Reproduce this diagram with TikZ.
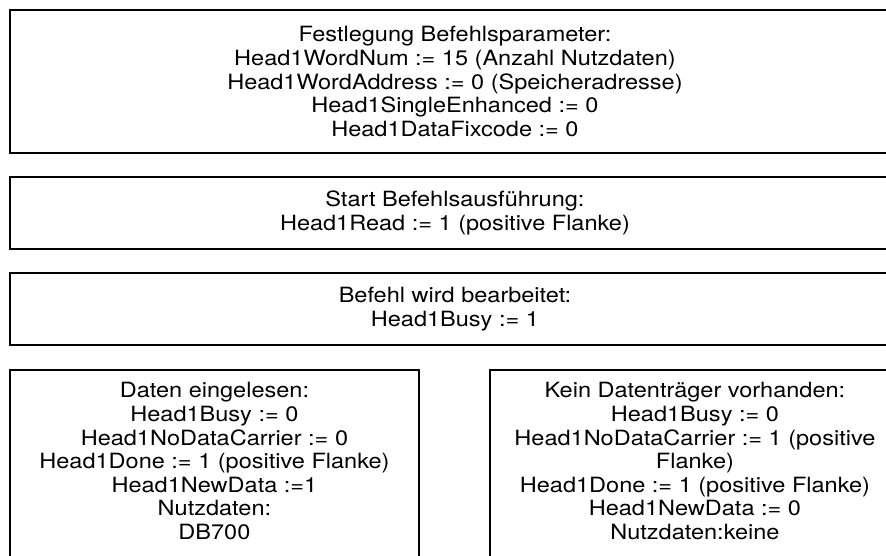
\documentclass[tikz,border=0pt]{standalone}
\usepackage{fontspec}
\setmainfont{TeX Gyre Heros}[FakeStretch=1.12]
\usetikzlibrary{positioning}

\begin{document}
\begin{tikzpicture}[
    x=0.75pt, y=-0.75pt,
    font=\fontsize{15.75}{17.7}\selectfont,
    box/.style={
        rectangle, draw=black, line width=1.4pt,
        anchor=north west, inner sep=0pt,
        minimum width=667.5pt, align=center
    },
    halfbox/.style={box, minimum width=306.75pt, minimum height=165pt},
    lbl/.style={align=center, inner sep=0pt}
]
\useasboundingbox (0,0) rectangle (886,556);
\clip (0,0) rectangle (886,556);

% Sequence of steps
\node[box, minimum height=107.5pt] (festl) at (9,9)
    {Festlegung Befehlsparameter:\\
     Head1WordNum := 15 (Anzahl Nutzdaten)\\
     Head1WordAddress := 0 (Speicheradresse)\\
     Head1SingleEnhanced := 0\\
     Head1DataFixcode := 0};
\node[box, minimum height=54pt] (start) at (9,176)
    {Start Befehlsausführung:\\
     Head1Read := 1 (positive Flanke)};
\node[box, minimum height=54pt] (busy) at (9,272)
    {Befehl wird bearbeitet:\\
     Head1Busy := 1};

% Two outcomes
\node[halfbox] (daten) at (9,369) {};
\node[halfbox, minimum width=307.5pt] (kein) at (489,369) {};

\node[lbl, below=10pt of daten.north] (datentxt)
    {Daten eingelesen:\\
     Head1Busy := 0\\
     Head1NoDataCarrier := 0\\
     Head1Done := 1 (positive Flanke)\\
     Head1NewData :=1\\
     Nutzdaten:\\
     DB700};
\node[lbl, below=10pt of kein.north] (keintxt)
    {Kein Datenträger vorhanden:\\
     Head1Busy := 0\\
     Head1NoDataCarrier := 1 (positive\\
     Flanke)\\
     Head1Done := 1 (positive Flanke)\\
     Head1NewData := 0\\
     Nutzdaten:keine};

\end{tikzpicture}
\end{document}
